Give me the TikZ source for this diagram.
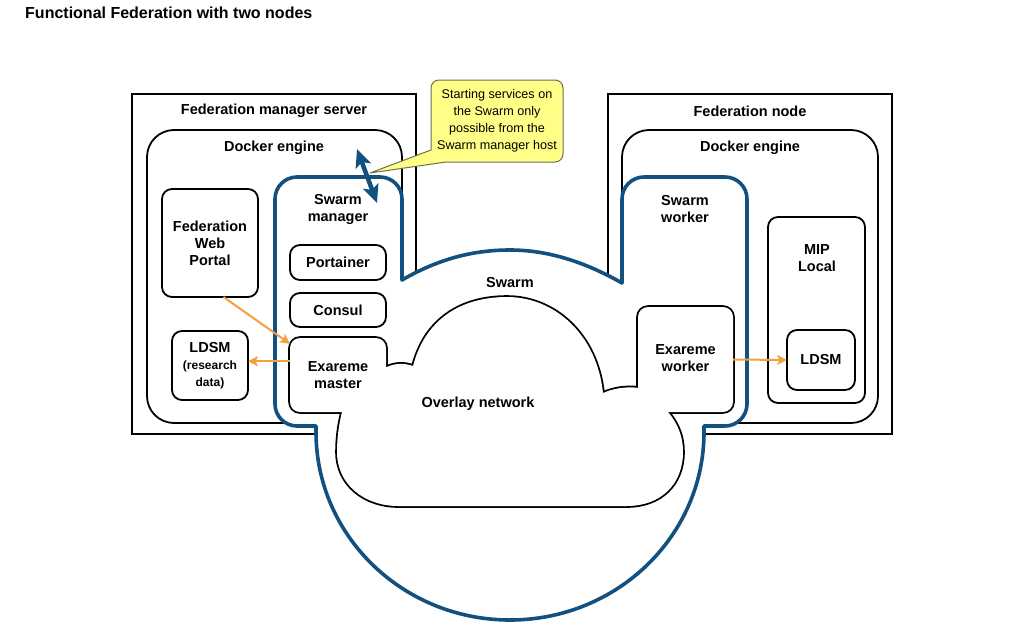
\documentclass[tikz,border=0pt]{standalone}
\usepackage{fontspec}
\setmainfont{Liberation Sans}
\usetikzlibrary{arrows.meta}
\definecolor{swarmblue}{RGB}{18,80,128}
\definecolor{linkorange}{RGB}{242,160,64}
\definecolor{noteyellow}{RGB}{255,255,136}
\definecolor{noteedge}{RGB}{110,110,80}
\newcommand\smalltxt{\fontsize{12}{17}\selectfont}
\tikzset{
  lbl/.style={font=\bfseries\fontsize{14.5}{17}\selectfont, align=center, inner sep=0pt},
  hostbox/.style={draw, line width=1.8pt, fill=white},
  enginebox/.style={draw, line width=1.8pt, rounded corners=27pt, fill=white},
  svcbox/.style={draw, line width=1.8pt, rounded corners=10pt, fill=white, inner sep=0pt, outer sep=0pt},
  mergebox/.style={draw, line width=3.6pt, rounded corners=10pt, fill=white, inner sep=0pt, outer sep=0pt},
  swarmline/.style={draw=swarmblue, line width=3.6pt, fill=white, line join=round},
  cloudline/.style={draw, line width=3.6pt, fill=white},
  notebox/.style={draw=noteedge, fill=noteyellow, line width=1pt, line join=round},
  notetxt/.style={font=\fontsize{12.6}{17}\selectfont, align=center, inner sep=0pt},
  link/.style={draw=linkorange, line width=2pt, -{Stealth[length=10pt,width=10pt,inset=2.5pt]}},
  ctrl/.style={draw=swarmblue, line width=4.5pt, {Stealth[length=18pt,width=16pt,inset=4pt]}-{Stealth[length=18pt,width=16pt,inset=4pt]}},
}
\begin{document}
\begin{tikzpicture}[x=1pt,y=-1pt]
  \def\cloudpath{(372,369) -- (387,367) .. controls (395,363) and (405,363) .. (413,366)
    .. controls (425,320) and (460,297) .. (507,297) .. controls (555,297) and (597,335) .. (603,393)
    .. controls (612,389) and (625,386) .. (639,388) -- (655,390) -- (668,412)
    .. controls (679,425) and (683,438) .. (683,452) .. controls (683,485) and (660,506) .. (627,506)
    -- (398,506) .. controls (365,506) and (337,485) .. (337,452)
    .. controls (337,437) and (339,424) .. (342,412) -- (350,395) -- cycle}
  \fill[white] (0,0) rectangle (1024,629);
  \useasboundingbox (0,0) rectangle (1024,629);
  \node[anchor=west, font=\bfseries\fontsize{16}{19}\selectfont, inner sep=0pt] (title) at (25,13) {Functional Federation with two nodes};
  % hosts and engines
  \draw[hostbox] (132,94) rectangle (416,434);
  \draw[hostbox] (608,94) rectangle (892,434);
  \draw[enginebox] (147,130) rectangle (402,423);
  \draw[enginebox] (622,130) rectangle (878,423);
  \node[lbl] (mgrhost) at (274,111) {Federation manager server};
  \node[lbl] (nodehost) at (750,111) {Federation node};
  \node[lbl] (mgrengine) at (274,147.5) {Docker engine};
  \node[lbl] (nodeengine) at (750,147.5) {Docker engine};
  \node[svcbox, lbl, minimum width=96pt, minimum height=108pt] (portal) at (210,243) {Federation\\Web\\Portal};
  \node[svcbox, lbl, minimum width=76pt, minimum height=69pt] (ldsmA) at (210,365.5) {LDSM\\\smalltxt (research\\\smalltxt data)};
  \node[svcbox, minimum width=97pt, minimum height=186pt] (mip) at (816.5,310) {};
  \node[lbl] (miptxt) at (817,258.5) {MIP\\Local};
  \node[svcbox, lbl, minimum width=68pt, minimum height=60pt] (ldsmB) at (821,360) {LDSM};
  % note
  \draw[notebox] (431,150) -- (431,88) arc[start angle=180, end angle=90, radius=8pt] -- (555,80)
    arc[start angle=90, end angle=0, radius=8pt] -- (563,154)
    arc[start angle=0, end angle=-90, radius=8pt] -- (446,162) -- (370,173) -- cycle;
  \node[notetxt] (note) at (497,121) {Starting services on\\the Swarm only\\possible from the\\Swarm manager host};
  % swarm
  \path[swarmline] (275,300) -- (275,199) arc[start angle=180, end angle=90, radius=22pt] -- (380,177)
    arc[start angle=90, end angle=0, radius=22pt] -- (402,280)
    .. controls (440,258) and (475,250) .. (510,250) .. controls (548,250) and (585,262) .. (622,283)
    -- (622,199) arc[start angle=180, end angle=90, radius=22pt] -- (725,177)
    arc[start angle=90, end angle=0, radius=22pt] -- (747,404)
    arc[start angle=0, end angle=-90, radius=22pt] -- (704,426) -- (704,432)
    arc[start angle=0, end angle=-180, x radius=194pt, y radius=188pt]
    -- (316,426) -- (297,426) arc[start angle=-90, end angle=-180, radius=22pt] -- cycle;
  \node[lbl] (mgrswarm) at (338,209) {Swarm\\manager};
  \node[lbl] (wrkswarm) at (685,209) {Swarm\\worker};
  \node[lbl] (swarm) at (510,282.5) {Swarm};
  \node[svcbox, lbl, minimum width=96pt, minimum height=35pt] (portainer) at (338,262.5) {Portainer};
  \node[svcbox, lbl, minimum width=96pt, minimum height=34pt] (consul) at (338,310) {Consul};
  % overlay network merged with the exareme boxes
  \node[mergebox, minimum width=96pt, minimum height=74pt] (masterbox) at (338,375) {};
  \node[mergebox, minimum width=95pt, minimum height=105pt] (workerbox) at (685.5,359.5) {};
  \path[cloudline] \cloudpath;
  \fill[white] \cloudpath;
  \fill[white, rounded corners=10pt] (masterbox.south west) rectangle (masterbox.north east);
  \fill[white, rounded corners=10pt] (workerbox.south west) rectangle (workerbox.north east);
  \node[lbl] (mastertxt) at (338,375.5) {Exareme\\master};
  \node[lbl] (workertxt) at (685.5,358.5) {Exareme\\worker};
  \node[lbl] (overlay) at (478,403.5) {Overlay network};
  % links
  \draw[link] (portal.-76) -- (masterbox.147);
  \draw[link] (masterbox.164) -- (masterbox.164 -| ldsmA.east);
  \draw[link] (workerbox.east) -- (ldsmB.west);
  \coordinate (ctrlA) at (357,149);
  \coordinate (ctrlB) at (377,203);
  \draw[ctrl] (ctrlA) -- (ctrlB);
\end{tikzpicture}
\end{document}
